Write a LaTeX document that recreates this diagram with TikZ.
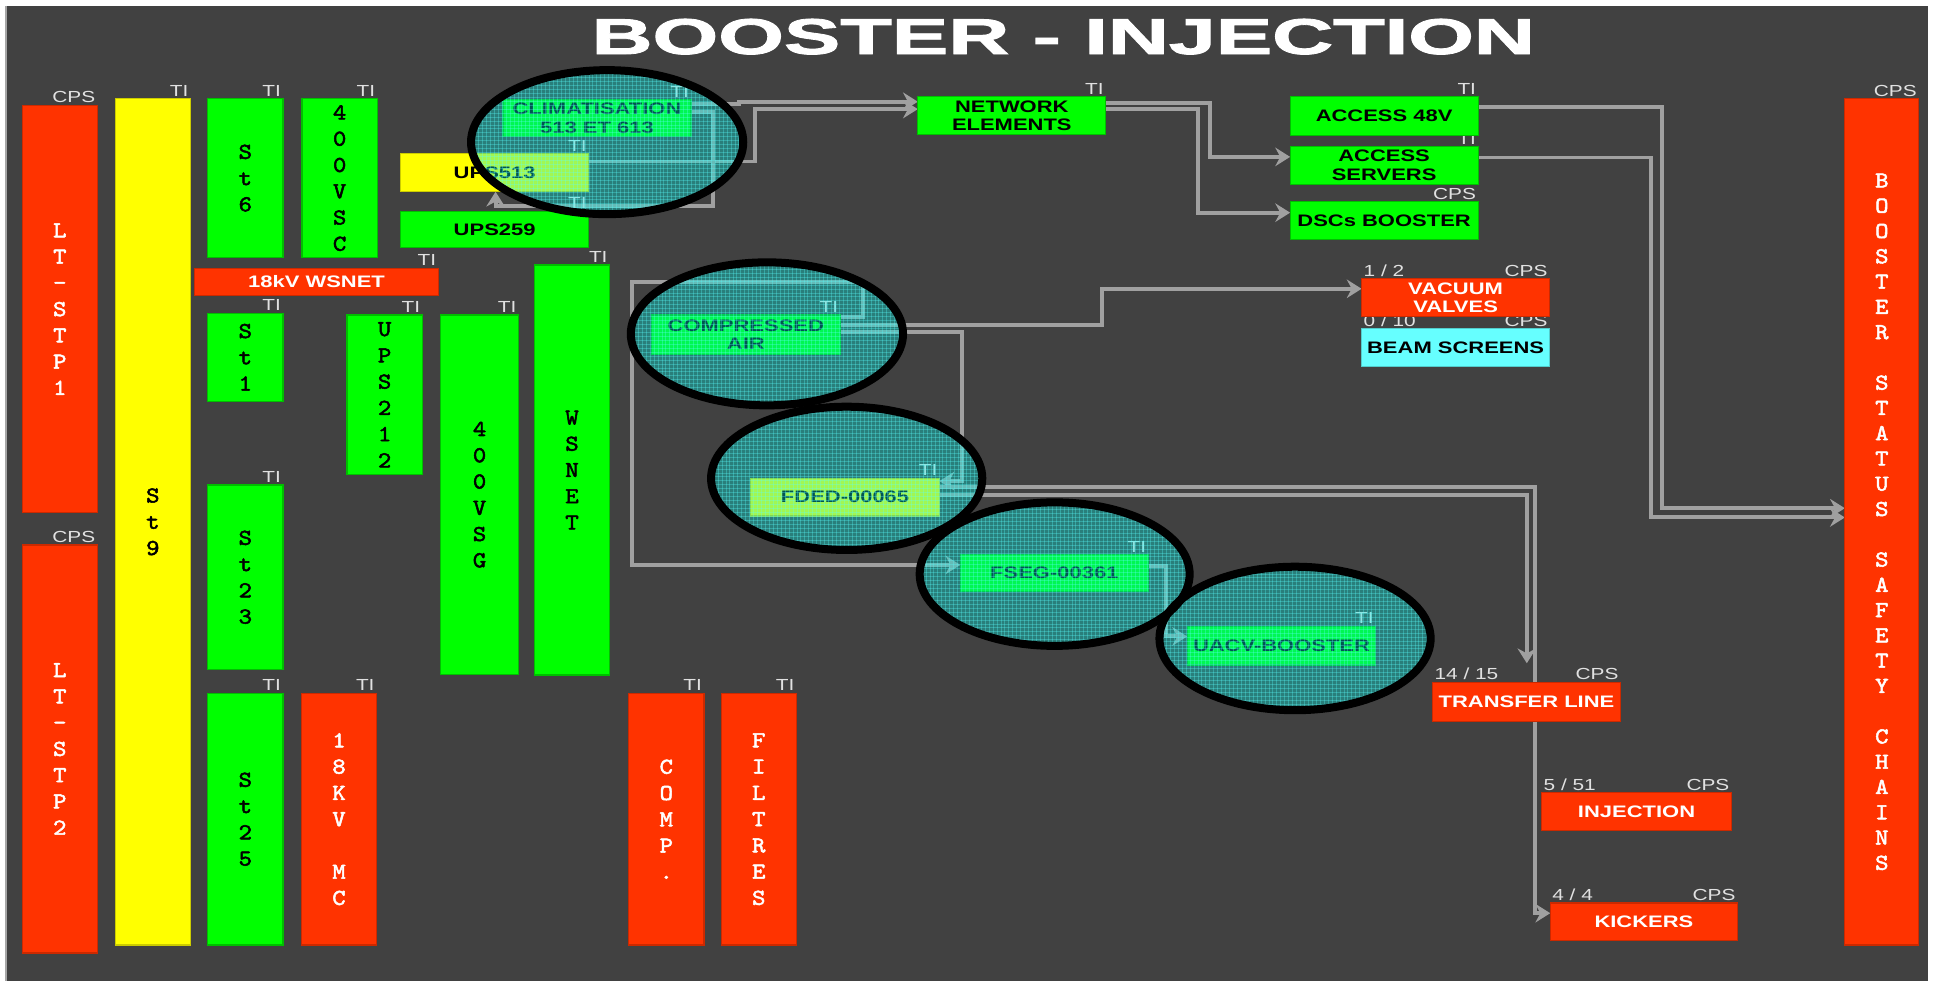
\documentclass[tikz,border=0pt]{standalone}
\usepackage{fontspec}
\usepackage{graphicx}
\usetikzlibrary{arrows.meta,calc}

% fonts: stretched Arial-like faces for the panel texts, slab mono for stacked letters
\newfontfamily\labelfont{Liberation Sans}[FakeStretch=1.3]
\newfontfamily\boxfont{Liberation Sans}[FakeStretch=1.32]
\newfontfamily\headfont{Liberation Sans}[FakeBold=1.6]
\newfontfamily\stackfont{lmmono10-regular.otf}[FakeBold=2.2, FakeStretch=1.12]

\definecolor{panel}{RGB}{65,65,65}
\definecolor{wire}{RGB}{160,160,160}
\definecolor{okgreen}{RGB}{0,255,0}
\definecolor{alarmred}{RGB}{255,51,0}
\definecolor{warnyellow}{RGB}{255,255,0}
\definecolor{paleblue}{RGB}{102,255,255}
\definecolor{taglight}{RGB}{225,225,225}
\definecolor{glasstint}{RGB}{0,235,225}
\definecolor{glassgrid}{RGB}{90,255,255}

\pgfdeclarelayer{base}
\pgfdeclarelayer{wires}
\pgfdeclarelayer{glass}
\pgfsetlayers{base,wires,main,glass}

\tikzset{
  unit/.style={inner sep=0pt, outer sep=0pt, anchor=north west, line width=1pt},
  greenbox/.style={unit, fill=okgreen, draw=okgreen!75!black},
  redbox/.style={unit, fill=alarmred, draw=alarmred!80!black, text=white},
  yellowbox/.style={unit, fill=warnyellow, draw=warnyellow!80!black},
  cyanbox/.style={unit, fill=paleblue, draw=paleblue!80!black},
  hbox/.style={font=\boxfont\bfseries\fontsize{13.5}{15}\selectfont, align=center},
  vbox/.style={font=\stackfont\fontsize{18.5}{21.3}\selectfont, align=center},
  tag/.style={font=\labelfont\fontsize{13}{13}\selectfont, text=taglight, inner sep=0pt},
  tr/.style={label={[tag, anchor=base east, xshift=-1.5pt, yshift=2pt]north east:#1}},
  tl/.style={label={[tag, anchor=base west, xshift=1.5pt, yshift=2pt]north west:#1}},
  conn/.style={draw=wire, line width=3.2pt, -{Stealth[length=12pt,width=15pt,inset=4pt]}},
  ring/.style={draw=black, line width=6.5pt},
  gridline/.style={draw=glassgrid, line width=0.6pt, draw opacity=0.3},
}

\begin{document}
\begin{tikzpicture}[x=1pt,y=-1pt]
\useasboundingbox (0,0) rectangle (1568,796);

\begin{pgfonlayer}{base}
  \fill[white] (0,0) rectangle (1568,796);
  \fill[panel] (4.5,4.9) rectangle (1564,796);
  \draw[gray!70, line width=1.5pt] (5.2,4.9) -- (5.2,796);
\end{pgfonlayer}

% heading
\node[text=white, font=\headfont\bfseries, anchor=base, inner sep=0pt] (title) at (862.5,43.8)
  {\resizebox{765pt}{28.5pt}{BOOSTER - INJECTION}};

% left column of vertical boxes
\node[redbox, vbox, minimum width=61pt, minimum height=330.5pt, tr=CPS] (ltstp1) at (18,85.5) {L\\T\\-\\S\\T\\P\\1};
\node[redbox, vbox, minimum width=61pt, minimum height=331pt, tr=CPS] (ltstp2) at (18,442) {L\\T\\-\\S\\T\\P\\2};
\node[yellowbox, vbox, minimum width=61pt, minimum height=686.5pt, tr=TI] (st9) at (93.5,80) {S\\t\\9};
\node[greenbox, vbox, minimum width=61pt, minimum height=129pt, tr=TI] (st6) at (168.5,80) {S\\t\\6};
\node[greenbox, vbox, minimum width=61pt, minimum height=129pt, tr=TI] (vsc) at (245,80) {4\\0\\0\\V\\S\\C};
\node[redbox, hbox, minimum width=197.5pt, minimum height=22.5pt, tr=TI] (kvws) at (158,217.5) {18kV WSNET};
\node[greenbox, vbox, minimum width=61pt, minimum height=71.5pt, tr=TI] (st1) at (168.5,254) {S\\t\\1};
\node[greenbox, vbox, minimum width=61pt, minimum height=129.5pt, tr=TI] (ups212) at (281.5,255.5) {U\\P\\S\\2\\1\\2};
\node[greenbox, vbox, minimum width=63pt, minimum height=291.5pt, tr=TI] (vsg) at (357.5,255.5) {4\\0\\0\\V\\S\\G};
\node[greenbox, vbox, minimum width=61pt, minimum height=332.5pt, tr=TI] (wsnet) at (433.5,215) {W\\S\\N\\E\\T};
\node[greenbox, vbox, minimum width=61pt, minimum height=149.5pt, tr=TI] (st23) at (168.5,393.5) {S\\t\\2\\3};
\node[greenbox, vbox, minimum width=61pt, minimum height=204pt, tr=TI] (st25) at (168.5,562.5) {S\\t\\2\\5};
\node[redbox, vbox, minimum width=61pt, minimum height=204pt, tr=TI] (kvmc) at (244.5,562.5) {1\\8\\K\\V\\~\\M\\C};
\node[redbox, vbox, minimum width=61pt, minimum height=204pt, tr=TI] (comp) at (510,562.5) {C\\O\\M\\P\\.};
\node[redbox, vbox, minimum width=61pt, minimum height=204pt, tr=TI] (filtres) at (585,562.5) {F\\I\\L\\T\\R\\E\\S};

% UPS and climatisation group
\node[yellowbox, hbox, minimum width=152.5pt, minimum height=31pt, tr=TI] (ups513) at (325,124.5) {UPS513};
\node[greenbox, hbox, minimum width=152.5pt, minimum height=29.5pt, tr=TI] (ups259) at (325,171.5) {UPS259};
\node[greenbox, hbox, minimum width=152.5pt, minimum height=29.5pt, tr=TI] (climat) at (408,81) {CLIMATISATION\\513 ET 613};
\node[greenbox, hbox, minimum width=152.5pt, minimum height=30.5pt, tr=TI] (network) at (744.5,78.5) {NETWORK\\ELEMENTS};

% access group
\node[greenbox, hbox, minimum width=152.5pt, minimum height=30.5pt, tr=TI] (accsrv) at (1046.5,119) {ACCESS\\SERVERS};
\node[greenbox, hbox, minimum width=152.5pt, minimum height=31.5pt, tr=TI] (access48) at (1046.5,78.5) {ACCESS 48V};
\node[greenbox, hbox, minimum width=152.5pt, minimum height=30.5pt, tr=CPS] (dscs) at (1046.5,163.5) {DSCs BOOSTER};

% compressed air chain
\node[greenbox, hbox, minimum width=153pt, minimum height=32pt, tr=TI] (compair) at (528.5,255.5) {COMPRESSED\\AIR};
\node[yellowbox, hbox, minimum width=153pt, minimum height=30.5pt, tr=TI] (fded) at (609,388) {FDED-00065};
\node[greenbox, hbox, minimum width=152.5pt, minimum height=30pt, tr=TI] (fseg) at (779,450) {FSEG-00361};
\node[greenbox, hbox, minimum width=153pt, minimum height=31.5pt, tr=TI] (uacv) at (963,508) {UACV-BOOSTER};

% vacuum
\node[cyanbox, hbox, minimum width=152.5pt, minimum height=30.5pt, tl={0 / 10}, tr=CPS] (beam) at (1104.5,266.5) {BEAM SCREENS};
\node[redbox, hbox, minimum width=152.5pt, minimum height=31pt, tl={1 / 2}, tr=CPS] (vacuum) at (1104.5,226) {VACUUM\\VALVES};

% beam line
\node[redbox, hbox, minimum width=152.5pt, minimum height=31.5pt, tl={14 / 15}, tr=CPS] (transfer) at (1162,553.5) {TRANSFER LINE};
\node[redbox, hbox, minimum width=154pt, minimum height=30.5pt, tl={5 / 51}, tr=CPS] (injection) at (1250.5,643) {INJECTION};
\node[redbox, hbox, minimum width=152pt, minimum height=30.5pt, tl={4 / 4}, tr=CPS] (kickers) at (1257.5,732.5) {KICKERS};

% safety chains
\node[redbox, vbox, font=\stackfont\fontsize{18.5}{20.5}\selectfont, minimum width=60pt, minimum height=686.5pt, tr=CPS] (bss) at (1496.5,80)
  {B\\O\\O\\S\\T\\E\\R\\~\\S\\T\\A\\T\\U\\S\\~\\S\\A\\F\\E\\T\\Y\\~\\C\\H\\A\\I\\N\\S};

% bend points
\coordinate (bendA) at (402,167);
\coordinate (bendB) at (512.5,228.5);
\coordinate (tlDrop) at (1238.5,538);

\begin{pgfonlayer}{wires}
  \draw[conn] ([yshift=11.75pt]climat.east) -- ++(39,0) -- ++(0,-1.5) -- ([yshift=11.25pt]network.west);
  \draw[conn] ([yshift=5pt]climat.east) -- ++(17.5,0) |- (bendA) -- (bendA |- ups513.south);
  \draw[conn] ([yshift=9pt]ups513.east) -- ++(135,0) |- ([yshift=5.25pt]network.west);
  \draw[conn] ([yshift=10.5pt]network.east) -- ++(84.5,0) |- ([yshift=7pt]accsrv.west);
  \draw[conn] ([yshift=5pt]network.east) -- ++(75,0) |- ([yshift=6.25pt]dscs.west);
  \draw[conn] ([yshift=7.25pt]access48.east) -- ++(149.5,0) |- ([yshift=11pt]bss.west);
  \draw[conn] ([yshift=6.5pt]accsrv.east) -- ++(140,0) |- ([yshift=3.5pt]bss.west);
  \draw[conn] ([yshift=8pt]compair.east) -- ++(212.5,0) |- ([yshift=7.25pt]vacuum.west);
  \draw[conn] ([yshift=2.5pt]compair.east) -- ++(98.5,0) |- ([yshift=13pt]fded.east);
  \draw[conn] ([yshift=14.5pt]compair.east) -- ++(18.5,0) |- (bendB) |- ([yshift=6.75pt]fseg.west);
  \draw[conn] ([yshift=1.75pt]fded.east) -| (tlDrop);
  \draw[conn] ([yshift=8.5pt]fded.east) -- ++(483,0) |- ([yshift=7pt]kickers.west);
  \draw[conn] ([yshift=6pt]fseg.east) -- ++(14.5,0) |- ([yshift=7.5pt]uacv.west);
\end{pgfonlayer}

% highlighted equipment: tinted glass ellipses with a fine grid
\begin{pgfonlayer}{glass}
  \foreach \cx/\cy/\rx/\ry in {492.5/115.3/110.4/58.4, 622.1/270.8/110.4/58, 686.8/388/110/58.1, 855.5/465.7/109.5/58.2, 1050.5/517.9/110/58.2} {
    \fill[glasstint, fill opacity=0.37] (\cx,\cy) ellipse [x radius=\rx pt, y radius=\ry pt];
    \begin{scope}
      \clip (\cx,\cy) ellipse [x radius=\rx pt, y radius=\ry pt];
      \foreach \d in {-114,-110.8,...,114} {
        \draw[gridline] (\cx+\d,\cy-62) -- (\cx+\d,\cy+62);
      }
      \foreach \d in {-62,-58.8,...,62} {
        \draw[gridline] (\cx-114,\cy+\d) -- (\cx+114,\cy+\d);
      }
    \end{scope}
  }
  \foreach \cx/\cy/\rx/\ry in {492.5/115.3/110.4/58.4, 622.1/270.8/110.4/58, 686.8/388/110/58.1, 855.5/465.7/109.5/58.2, 1050.5/517.9/110/58.2} {
    \draw[ring] (\cx,\cy) ellipse [x radius=\rx pt, y radius=\ry pt];
  }
\end{pgfonlayer}
\end{tikzpicture}
\end{document}
